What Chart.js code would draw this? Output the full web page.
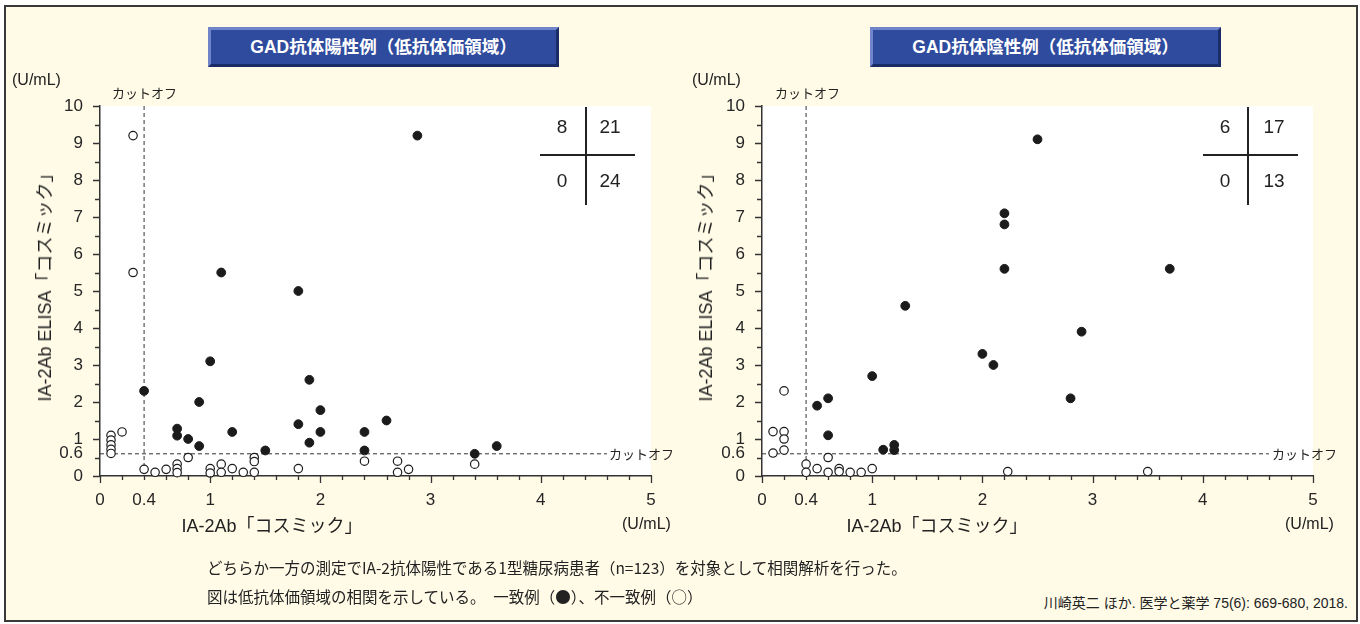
<!DOCTYPE html>
<html>
<head>
<meta charset="utf-8">
<script src="https://cdn.jsdelivr.net/npm/chart.js@4.4.1/dist/chart.umd.min.js"></script>
<style>
  body { margin: 0; width: 1360px; height: 624px; background: #fff; position: relative; overflow: hidden;
         font-family: "Liberation Sans", "Noto Sans CJK JP", sans-serif; color: #222; }
  #frame { position: absolute; left: 4px; top: 5px; width: 1350px; height: 613px; border: 2px solid #3a3a3a; background: #fffbe7; }
  canvas { position: absolute; top: 0; }
  .t { position: absolute; white-space: nowrap; line-height: 1; }
  .tbox { position: absolute; top: 27px; width: 351px; height: 40px; box-sizing: border-box; background: #2f4b9e;
          border: 3px solid; border-color: #7085c9 #1a2c68 #1a2c68 #7085c9; color: #fff; font-weight: bold;
          font-size: 17.5px; line-height: 34px; text-align: center; font-family: "Liberation Sans", "Noto Sans CJK JP", sans-serif; }
  .jp { font-family: "Noto Sans CJK JP", sans-serif; }
  .ytitle { transform: translate(-50%, -50%) rotate(-90deg); font-size: 18px; }
  .xtitle { transform: translate(-50%, -50%); font-size: 18px; }
  .unit { font-size: 16px; }
  .cut { font-size: 13px; font-family: "Noto Sans CJK JP", sans-serif; }
  .q { position: absolute; font-size: 19px; transform: translate(-50%, -50%); }
  .vline { position: absolute; width: 2px; background: #222; }
  .hline { position: absolute; height: 2px; background: #222; }
  .note { font-size: 15.5px; font-family: "Noto Sans CJK JP", sans-serif; }
  .cite { font-size: 14px; }
</style>
</head>
<body>
<div id="frame"></div>
<canvas id="left" width="680" height="560" style="left:0"></canvas>
<canvas id="right" width="680" height="560" style="left:680px"></canvas>

<div class="tbox" style="left:208px">GAD抗体陽性例（低抗体価領域）</div>
<div class="tbox" style="left:870px">GAD抗体陰性例（低抗体価領域）</div>

<div class="t unit" style="left:12px;top:72px">(U/mL)</div>
<div class="t unit" style="left:692px;top:72px">(U/mL)</div>
<div class="t cut" style="left:112px;top:86px">カットオフ</div>
<div class="t cut" style="left:775px;top:86px">カットオフ</div>
<div class="t cut" style="left:609px;top:447px">カットオフ</div>
<div class="t cut" style="left:1272px;top:447px">カットオフ</div>

<div class="t ytitle" style="left:44px;top:283px">IA-2Ab ELISA<span class="jp">「コスミック」</span></div>
<div class="t ytitle" style="left:705px;top:283px">IA-2Ab ELISA<span class="jp">「コスミック」</span></div>
<div class="t xtitle" style="left:272px;top:525px">IA-2Ab<span class="jp">「コスミック」</span></div>
<div class="t xtitle" style="left:937px;top:525px">IA-2Ab<span class="jp">「コスミック」</span></div>
<div class="t unit" style="left:622px;top:516px">(U/mL)</div>
<div class="t unit" style="left:1285px;top:516px">(U/mL)</div>

<div class="vline" style="left:585px;top:107px;height:98px"></div>
<div class="hline" style="left:540px;top:154px;width:95px"></div>
<div class="q" style="left:562px;top:127px">8</div>
<div class="q" style="left:610px;top:127px">21</div>
<div class="q" style="left:562px;top:181px">0</div>
<div class="q" style="left:610px;top:181px">24</div>

<div class="vline" style="left:1247px;top:107px;height:98px"></div>
<div class="hline" style="left:1203px;top:154px;width:95px"></div>
<div class="q" style="left:1225px;top:127px">6</div>
<div class="q" style="left:1274px;top:127px">17</div>
<div class="q" style="left:1225px;top:181px">0</div>
<div class="q" style="left:1274px;top:181px">13</div>

<div class="t note" style="left:207px;top:560px">どちらか一方の測定でIA-2抗体陽性である1型糖尿病患者（n=123）を対象として相関解析を行った。</div>
<div class="t note" style="left:207px;top:589px">図は低抗体価領域の相関を示している。　一致例（●）、不一致例（○）</div>
<div class="t cite" style="right:12px;top:596px">川崎英二 ほか. 医学と薬学 75(6): 669-680, 2018.</div>

<script>
const X_MAX = 5;
const Y_MAX = 10;
const CUTOFF_X = 0.4;
const CUTOFF_Y = 0.6;
const CUTOFF_LINE_END = 4.6;
const xTickLabels = [0, 0.4, 1, 2, 3, 4, 5];
const yTickLabels = [0, 0.6, 1, 2, 3, 4, 5, 6, 7, 8, 9, 10];

// GAD抗体陽性例: 一致例 (filled) / 不一致例 (open)
const posConcordant = [
  [2.88, 9.2], [1.1, 5.5], [1.8, 5.0], [1.0, 3.1], [1.9, 2.6], [0.4, 2.3], [0.9, 2.0],
  [0.7, 1.28], [0.7, 1.09], [0.8, 1.0], [0.9, 0.81], [1.2, 1.19], [1.5, 0.69], [1.8, 1.4],
  [1.9, 0.9], [2.0, 1.78], [2.0, 1.19], [2.4, 1.19], [2.4, 0.69], [2.6, 1.5], [3.4, 0.6], [3.6, 0.81],
];
const posDiscordant = [
  [0.3, 9.2], [0.3, 5.5], [0.1, 1.1], [0.1, 0.97], [0.1, 0.84], [0.1, 0.72], [0.1, 0.61], [0.2, 1.19],
  [0.4, 0.18], [0.5, 0.1], [0.6, 0.18], [0.7, 0.32], [0.7, 0.2], [0.7, 0.09], [0.8, 0.5],
  [1.0, 0.2], [1.0, 0.08], [1.1, 0.32], [1.1, 0.1], [1.2, 0.2], [1.3, 0.1], [1.4, 0.5], [1.4, 0.39],
  [1.4, 0.1], [1.8, 0.2], [2.4, 0.4], [2.7, 0.4], [2.7, 0.1], [2.8, 0.18], [3.4, 0.32],
];

// GAD抗体陰性例
const negConcordant = [
  [2.5, 9.1], [2.2, 7.1], [2.2, 6.8], [2.2, 5.6], [3.7, 5.6], [2.9, 3.9], [2.8, 2.1], [1.3, 4.6],
  [2.0, 3.3], [2.1, 3.0], [1.0, 2.7], [0.5, 1.9], [0.6, 2.1], [0.6, 1.1], [1.1, 0.71], [1.2, 0.84], [1.2, 0.7],
];
const negDiscordant = [
  [0.2, 2.3], [0.1, 1.2], [0.2, 1.2], [0.2, 1.0], [0.1, 0.62], [0.2, 0.7], [0.4, 0.32], [0.4, 0.1],
  [0.5, 0.2], [0.6, 0.5], [0.6, 0.1], [0.7, 0.2], [0.7, 0.12], [0.8, 0.1], [0.9, 0.1], [1.0, 0.2],
  [2.23, 0.12], [3.5, 0.12],
];

Chart.defaults.font.family = '"Liberation Sans", Arial, sans-serif';
Chart.defaults.font.size = 17;
Chart.defaults.color = "#262626";

const isInt = (v) => Math.abs(v - Math.round(v)) < 1e-6;
const toPoints = (arr) => arr.map(([x, y]) => ({ x, y }));

const cutoffPlugin = {
  id: "cutoff",
  beforeDraw(chart) {
    const { ctx, chartArea: a } = chart;
    ctx.save();
    ctx.fillStyle = "#fff";
    ctx.fillRect(a.left, a.top, a.right - a.left, a.bottom - a.top);
    ctx.restore();
  },
  beforeDatasetsDraw(chart) {
    const { ctx, scales: { x, y } } = chart;
    const cx = x.getPixelForValue(CUTOFF_X);
    const cy = y.getPixelForValue(CUTOFF_Y);
    ctx.save();
    ctx.strokeStyle = "#333";
    ctx.lineWidth = 1;
    ctx.setLineDash([4, 3]);
    ctx.beginPath();
    ctx.moveTo(cx, y.getPixelForValue(Y_MAX));
    ctx.lineTo(cx, y.getPixelForValue(0));
    ctx.moveTo(x.getPixelForValue(0), cy);
    ctx.lineTo(x.getPixelForValue(CUTOFF_LINE_END), cy);
    ctx.stroke();
    ctx.restore();
  },
  afterDraw(chart) {
    const { ctx, chartArea: a, scales: { x, y } } = chart;
    ctx.save();
    ctx.strokeStyle = "#333";
    ctx.lineWidth = 1.3;
    ctx.beginPath();
    for (let i = 0; i <= X_MAX * 5; i++) {
      const v = i / 5;
      const px = Math.round(x.getPixelForValue(v)) + 0.5;
      ctx.moveTo(px, a.bottom);
      ctx.lineTo(px, a.bottom + (isInt(v) ? 7 : 4));
    }
    for (let i = 0; i <= Y_MAX * 2; i++) {
      const v = i / 2;
      const py = Math.round(y.getPixelForValue(v)) + 0.5;
      ctx.moveTo(a.left, py);
      ctx.lineTo(a.left - (isInt(v) ? 7 : 5), py);
    }
    ctx.stroke();
    ctx.restore();
  },
};

function scatterChart(canvasId, concordant, discordant, padding) {
  new Chart(document.getElementById(canvasId), {
    type: "scatter",
    data: {
      datasets: [
        { label: "不一致例", data: toPoints(discordant), backgroundColor: "#fff", borderColor: "#1b1b1b",
          borderWidth: 1.2, pointRadius: 4.2 },
        { label: "一致例", data: toPoints(concordant), backgroundColor: "#1b1b1b", borderColor: "#1b1b1b",
          borderWidth: 1, pointRadius: 4.4 },
      ],
    },
    options: {
      responsive: false,
      animation: false,
      clip: false,
      layout: { padding, autoPadding: false },
      plugins: { legend: { display: false }, tooltip: { enabled: false } },
      scales: {
        x: {
          type: "linear", min: 0, max: X_MAX,
          afterBuildTicks: (s) => { s.ticks = xTickLabels.map((value) => ({ value })); },
          afterFit: (s) => { s.height = 40; },
          ticks: { autoSkip: false, maxRotation: 0, padding: 14, callback: (v) => String(v) },
          grid: { display: false, drawTicks: false },
          border: { display: true, color: "#333", width: 1.5 },
        },
        y: {
          type: "linear", min: 0, max: Y_MAX,
          afterBuildTicks: (s) => { s.ticks = yTickLabels.map((value) => ({ value })); },
          afterFit: (s) => { s.width = 60; },
          ticks: { autoSkip: false, padding: 17, callback: (v) => String(v) },
          grid: { display: false, drawTicks: false },
          border: { display: true, color: "#333", width: 1.5 },
        },
      },
    },
    plugins: [cutoffPlugin],
  });
}

scatterChart("left", posConcordant, posDiscordant, { top: 106, left: 40, right: 29, bottom: 44 });
scatterChart("right", negConcordant, negDiscordant, { top: 106, left: 22, right: 47, bottom: 44 });
</script>
</body>
</html>
